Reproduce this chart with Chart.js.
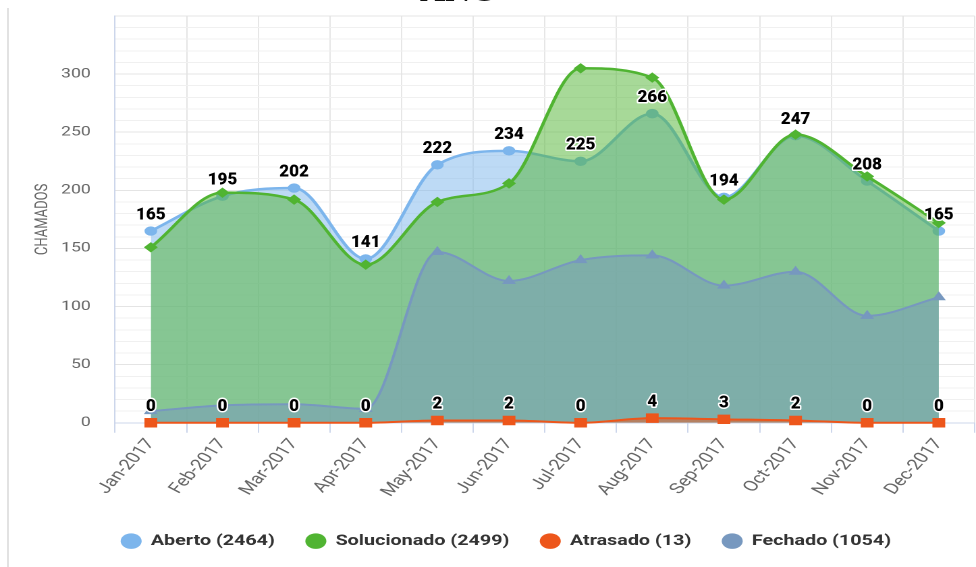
<!DOCTYPE html>
<html><head><meta charset="utf-8">
<script src="https://cdn.jsdelivr.net/npm/chart.js@4.4.0/dist/chart.umd.min.js"></script>
<style>
html,body{margin:0;padding:0;background:#fff;overflow:hidden;width:976px;height:567px;}
#frame{position:absolute;left:7px;top:8px;width:2px;height:559px;background:#e2e2e2;}
#stage{position:absolute;left:0;top:0;width:723px;height:567px;transform:scaleX(1.3499);transform-origin:0 0;}
#title{position:absolute;left:0;width:680px;top:-20.5px;text-align:center;font:bold 26px "Liberation Serif",serif;line-height:26px;color:#111;}
#wrap{position:absolute;left:0;top:0;width:723px;height:567px;}
</style></head>
<body>
<div id="frame"></div>
<div id="stage"><div id="title">ANO</div><div id="wrap"><canvas id="c"></canvas></div></div>
<script>
const categories = ['Jan-2017','Feb-2017','Mar-2017','Apr-2017','May-2017','Jun-2017','Jul-2017','Aug-2017','Sep-2017','Oct-2017','Nov-2017','Dec-2017'];
const aberto      = [165,195,202,141,222,234,225,266,194,247,208,165];
const solucionado = [151,198,192,136,190,206,305,297,192,248,212,172];
const atrasado    = [0,0,0,0,2,2,0,4,3,2,0,0];
const fechado     = [10,15,16,12,147,122,140,144,118,130,92,108];
const seriesNames = ['Aberto (2464)','Solucionado (2499)','Atrasado (13)','Fechado (1054)'];
const seriesColors = ['#7cb5ec','#50b432','#ed561b','#7798bf'];
const yTickLabels = [0,50,100,150,200,250,300];
const yAxisTitle = 'CHAMADOS';

function rgba(hex,a){const n=parseInt(hex.slice(1),16);return `rgba(${n>>16},${(n>>8)&255},${n&255},${a})`;}

const valueLabels = {
  id:'valueLabels',
  afterDatasetsDraw(chart){
    const ctx = chart.ctx;
    chart.data.datasets.forEach((ds,i)=>{
      if(!ds.showValues) return;
      const meta = chart.getDatasetMeta(i);
      meta.data.forEach((pt,j)=>{
        const txt = String(ds.data[j]);
        ctx.save();
        ctx.translate(pt.x, pt.y-16);
        ctx.scale(0.74,1);
        ctx.font = '900 17px Roboto';
        ctx.textAlign = 'center';
        ctx.textBaseline = 'middle';
        ctx.lineJoin = 'round';
        ctx.lineWidth = 3;
        ctx.strokeStyle = '#ffffff';
        ctx.strokeText(txt,0,0);
        ctx.fillStyle = '#000000';
        ctx.fillText(txt,0,0);
        ctx.restore();
      });
    });
  }
};

function ds(idx,data,style,radius,order,width,showValues){
  const c = seriesColors[idx];
  return {
    label: seriesNames[idx], data,
    borderColor: c, backgroundColor: rgba(c,0.5), fill:'origin',
    borderWidth: width, cubicInterpolationMode:'monotone',
    pointStyle: style, pointRadius: radius, pointBackgroundColor: c, pointBorderColor: c, pointBorderWidth: 1,
    order, clip: false, showValues
  };
}

new Chart(document.getElementById('c'), {
  type:'line',
  data:{
    labels: categories,
    datasets:[
      ds(0, aberto, 'circle', 4.2, 4, 2.5, true),
      ds(1, solucionado, 'rectRot', 4.5, 3, 2.5, false),
      ds(2, atrasado, 'rect', 6, 1, 2, true),
      ds(3, fechado, 'triangle', 5, 2, 2, false)
    ]
  },
  options:{
    responsive:true, maintainAspectRatio:false, animation:false, devicePixelRatio:2,
    layout:{autoPadding:false, padding:{top:16,left:28,right:1,bottom:8.6}},
    plugins:{
      tooltip:{enabled:false},
      legend:{
        position:'bottom',
        labels:{
          usePointStyle:true, pointStyle:'circle', boxWidth:15, boxHeight:11, padding:23,
          color:'#333', font:{family:'Roboto', size:14.6, weight:'bold'},
          generateLabels(chart){
            const items = Chart.defaults.plugins.legend.labels.generateLabels(chart);
            items.forEach(it=>{const c=seriesColors[it.datasetIndex]; it.fillStyle=c; it.strokeStyle=c; it.lineWidth=0; it.pointStyle='circle';});
            return items;
          },
          sort:(a,b)=>a.datasetIndex-b.datasetIndex
        }
      }
    },
    scales:{
      x:{
        offset:true,
        grid:{offset:true, color:'#e6e6e6', tickColor:'#ccd6eb', tickLength:10},
        border:{color:'#ccd6eb', width:1},
        ticks:{autoSkip:false, minRotation:55, maxRotation:55, color:'#666', font:{family:'Roboto', size:15}, padding:3},
        afterFit(s){ s.height = 88; s.paddingRight = 0; s.paddingLeft = 0; }
      },
      y:{
        min:0, max:350,
        ticks:{stepSize:10, autoSkip:false, maxTicksLimit:100, color:'#666', font:{family:'Roboto', size:13}, padding:18,
          callback:(v)=> yTickLabels.includes(v) ? String(v) : ''},
        grid:{drawTicks:false, color:(c)=> (c.tick && c.tick.value%50===0) ? '#e4e4e4' : '#f0f0f0'},
        border:{color:'#ccd6eb', width:1},
        title:{display:true, text:yAxisTitle, color:'#666', font:{family:'Roboto', size:13}, padding:{top:-4,bottom:0}},
        afterFit(s){ s.width = 57.2; s.paddingTop = 0; s.paddingBottom = 0; }
      }
    }
  },
  plugins:[valueLabels]
});
</script>
</body></html>
